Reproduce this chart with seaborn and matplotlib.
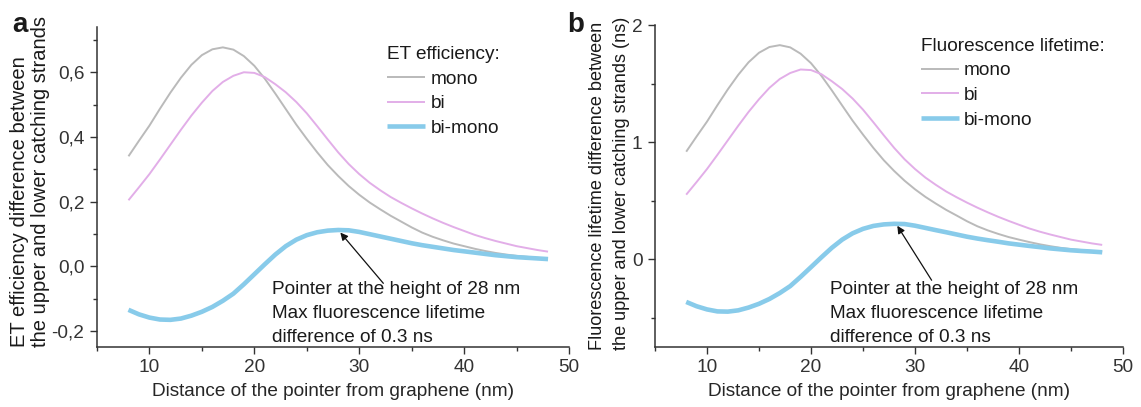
import matplotlib
matplotlib.use("Agg")
import matplotlib.pyplot as plt
import pandas as pd
import seaborn as sns
from matplotlib.ticker import MultipleLocator, FixedLocator, FixedFormatter

# ---------------- data ----------------
distance_nm = list(range(8, 49))

et_mono = [0.340, 0.388, 0.435, 0.487, 0.537, 0.583, 0.623, 0.653, 0.671, 0.677,
           0.670, 0.650, 0.620, 0.580, 0.534, 0.486, 0.438, 0.394, 0.352, 0.313,
           0.279, 0.248, 0.221, 0.197, 0.176, 0.156, 0.138, 0.120, 0.104, 0.091,
           0.080, 0.070, 0.062, 0.054, 0.047, 0.041, 0.036, 0.032, 0.029, 0.026,
           0.024]
et_bi = [0.204, 0.244, 0.285, 0.330, 0.376, 0.422, 0.466, 0.506, 0.542, 0.570,
         0.589, 0.600, 0.598, 0.585, 0.563, 0.538, 0.508, 0.473, 0.433, 0.392,
         0.352, 0.316, 0.285, 0.258, 0.235, 0.214, 0.196, 0.179, 0.163, 0.148,
         0.134, 0.121, 0.109, 0.097, 0.087, 0.078, 0.070, 0.062, 0.056, 0.050,
         0.045]
et_bimono = [-0.135, -0.149, -0.159, -0.165, -0.166, -0.162, -0.153, -0.141, -0.126, -0.107,
             -0.085, -0.056, -0.025, 0.006, 0.036, 0.062, 0.082, 0.096, 0.105, 0.110,
             0.112, 0.111, 0.106, 0.099, 0.092, 0.085, 0.078, 0.071, 0.065, 0.060,
             0.055, 0.050, 0.046, 0.042, 0.038, 0.034, 0.031, 0.028, 0.026, 0.024,
             0.022]

fl_mono = [0.918, 1.048, 1.175, 1.315, 1.450, 1.574, 1.682, 1.763, 1.812, 1.828,
           1.809, 1.755, 1.674, 1.566, 1.442, 1.312, 1.183, 1.064, 0.950, 0.845,
           0.753, 0.670, 0.597, 0.532, 0.475, 0.421, 0.373, 0.324, 0.281, 0.246,
           0.216, 0.189, 0.167, 0.146, 0.127, 0.111, 0.097, 0.086, 0.078, 0.070,
           0.065]
fl_bi = [0.551, 0.659, 0.770, 0.891, 1.015, 1.139, 1.258, 1.366, 1.463, 1.539,
         1.590, 1.620, 1.615, 1.580, 1.520, 1.453, 1.372, 1.277, 1.169, 1.058,
         0.950, 0.853, 0.770, 0.697, 0.635, 0.578, 0.529, 0.483, 0.440, 0.400,
         0.362, 0.327, 0.294, 0.262, 0.235, 0.211, 0.189, 0.167, 0.151, 0.135,
         0.122]
fl_bimono = [-0.365, -0.402, -0.429, -0.446, -0.448, -0.437, -0.413, -0.381, -0.340, -0.289,
             -0.230, -0.151, -0.068, 0.016, 0.097, 0.167, 0.221, 0.259, 0.284, 0.297,
             0.302, 0.300, 0.286, 0.267, 0.248, 0.230, 0.211, 0.192, 0.176, 0.162,
             0.149, 0.135, 0.124, 0.113, 0.103, 0.092, 0.084, 0.076, 0.070, 0.065,
             0.059]

series_names = ["mono", "bi", "bi-mono"]
x_ticks = [10, 20, 30, 40, 50]
x_ticklabels = ["10", "20", "30", "40", "50"]
et_yticks = [-0.2, 0.0, 0.2, 0.4, 0.6]
et_yticklabels = ["-0,2", "0,0", "0,2", "0,4", "0,6"]
fl_yticks = [0, 1, 2]
fl_yticklabels = ["0", "1", "2"]

et_ylabel_lines = ["ET efficiency difference between", "the upper and lower catching strands"]
fl_ylabel_lines = ["Fluorescence lifetime difference between",
                   "the upper and lower catching strands (ns)"]
annotation_text = "Pointer at the height of 28 nm\nMax fluorescence lifetime\ndifference of 0.3 ns"

# ---------------- style ----------------
sns.set_theme(style="ticks")
plt.rcParams["font.family"] = ["Liberation Sans", "DejaVu Sans"]
plt.rcParams["axes.edgecolor"] = "#333333"
plt.rcParams["xtick.color"] = "#333333"
plt.rcParams["ytick.color"] = "#333333"
plt.rcParams["text.color"] = "#1a1a1a"

FS = 13.7
colors = {"mono": "#bababa", "bi": "#e2aee8", "bi-mono": "#88cbea"}
widths = {"mono": 1.4, "bi": 1.4, "bi-mono": 3.3}

W, H = 1141, 407
fig = plt.figure(figsize=(W / 100, H / 100), dpi=100)
ax_a = fig.add_axes([97 / W, 60 / H, 472 / W, 320 / H])
ax_b = fig.add_axes([655 / W, 60 / H, 468 / W, 322 / H])


def draw_panel(ax, mono, bi, bimono, legend_title, yticks, yticklabels, ylim, yminor,
               leg_anchor):
    df = pd.DataFrame({
        "distance": distance_nm * 3,
        "value": mono + bi + bimono,
        "series": ["mono"] * len(mono) + ["bi"] * len(bi) + ["bi-mono"] * len(bimono),
    })
    for name in series_names:
        sub = df[df["series"] == name]
        sns.lineplot(data=sub, x="distance", y="value", ax=ax, color=colors[name],
                     linewidth=widths[name], label=name, legend=True,
                     solid_capstyle="butt", solid_joinstyle="round")
    ax.set_xlim(5, 50)
    ax.set_ylim(*ylim)
    ax.xaxis.set_major_locator(FixedLocator(x_ticks))
    ax.xaxis.set_major_formatter(FixedFormatter(x_ticklabels))
    ax.xaxis.set_minor_locator(MultipleLocator(5))
    ax.yaxis.set_major_locator(FixedLocator(yticks))
    ax.yaxis.set_major_formatter(FixedFormatter(yticklabels))
    ax.yaxis.set_minor_locator(MultipleLocator(yminor))
    ax.tick_params(which="major", direction="out", length=5, width=1, labelsize=FS, pad=4)
    ax.tick_params(which="minor", direction="out", length=3, width=1)
    sns.despine(ax=ax)
    for s in ("left", "bottom"):
        ax.spines[s].set_linewidth(1.1)
    ax.set_xlabel("Distance of the pointer from graphene (nm)", fontsize=FS, labelpad=5)
    ax.set_ylabel("")
    leg = ax.legend(title=legend_title, loc="upper left", bbox_to_anchor=leg_anchor,
                    frameon=False, alignment="left", handlelength=2.0,
                    handletextpad=0.27, labelspacing=0.38, borderpad=0,
                    borderaxespad=0, fontsize=FS, title_fontsize=FS)
    return leg


draw_panel(ax_a, et_mono, et_bi, et_bimono, "ET efficiency:", et_yticks, et_yticklabels,
           (-0.25, 0.74), 0.1, (0.615, 0.94))
draw_panel(ax_b, fl_mono, fl_bi, fl_bimono, "Fluorescence lifetime:", fl_yticks,
           fl_yticklabels, (-0.75, 2.0), 0.5, (0.568, 0.96))

# annotations
ax_a.annotate("", xy=(28.2, 0.104), xytext=(32.3, -0.053),
              arrowprops=dict(arrowstyle="-|>", color="#111111", lw=0.9,
                              mutation_scale=11, shrinkA=0, shrinkB=0))
ax_a.text(21.7, -0.146, annotation_text, ha="left", va="center", fontsize=FS,
          linespacing=1.55)
ax_b.annotate("", xy=(28.3, 0.285), xytext=(31.6, -0.18),
              arrowprops=dict(arrowstyle="-|>", color="#111111", lw=0.9,
                              mutation_scale=11, shrinkA=0, shrinkB=0))
ax_b.text(21.8, -0.463, annotation_text, ha="left", va="center", fontsize=FS,
          linespacing=1.55)

# y axis labels: each line as its own rotated text, left aligned at the bottom
for xc, line in zip([20, 41], et_ylabel_lines):
    fig.text(xc / W, 1 - 347 / H, line, rotation=90, ha="center", va="bottom",
             fontsize=14.5)
for xc, line in zip([598, 622], fl_ylabel_lines):
    fig.text(xc / W, 1 - 350 / H, line, rotation=90, ha="center", va="bottom",
             fontsize=13.1)

# panel letters
fig.text(12 / W, 1 - 32 / H, "a", fontsize=20, fontweight="bold", va="baseline")
fig.text(567 / W, 1 - 32 / H, "b", fontsize=20, fontweight="bold", va="baseline")

fig.savefig("out.png", dpi=100)
